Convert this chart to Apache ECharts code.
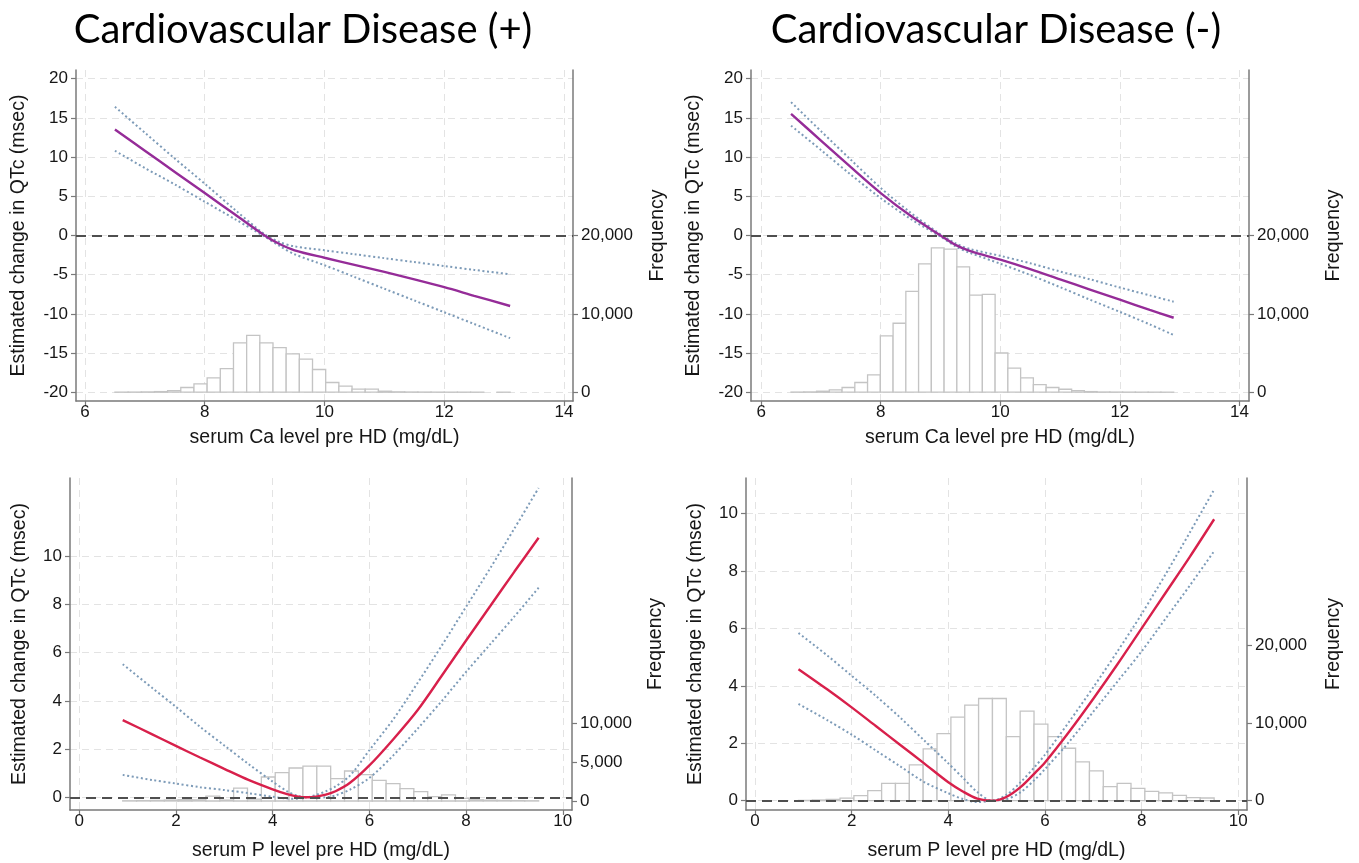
<!DOCTYPE html>
<html>
<head>
<meta charset="utf-8">
<script src="https://cdn.jsdelivr.net/npm/echarts@6/dist/echarts.min.js"></script>
<style>
html, body { margin: 0; padding: 0; background: #fff; }
#chart { width: 1359px; height: 863px; }
</style>
</head>
<body>
<div id="chart"></div>
<script>
// ---- data ----

// serum Ca, cardiovascular disease (+)
const caPosX = [6.5, 7, 7.5, 8, 8.5, 9, 9.25, 9.5, 10, 10.5, 11, 11.5, 12, 12.5, 13.1];
const caPosFit = [13.5, 10.8, 8.1, 5.4, 2.7, 0, -1.1, -1.9, -2.85, -3.75, -4.65, -5.6, -6.6, -7.7, -9.0];
const caPosUpper = [16.4, 13.1, 9.8, 6.6, 3.3, 0.15, -0.85, -1.4, -1.9, -2.4, -2.9, -3.4, -3.9, -4.4, -4.95];
const caPosLower = [10.8, 8.6, 6.5, 4.3, 2.1, -0.15, -1.35, -2.4, -3.8, -5.3, -6.8, -8.3, -9.8, -11.3, -13.1];
const caPosHistRange = [6.5, 13.1];
const caPosFreq = [15, 20, 40, 80, 200, 600, 1070, 1840, 3000, 6300, 7260, 6300, 5700, 4900, 4230,
                   2900, 1240, 770, 385, 385, 130, 50, 30, 20, 15, 10, 10, 8, 0, 5];

// serum Ca, cardiovascular disease (-)
const caNegX = [6.5, 7, 7.5, 8, 8.5, 9, 9.25, 9.5, 10, 10.5, 11, 11.5, 12, 12.5, 12.9];
const caNegFit = [15.5, 12.1, 8.7, 5.4, 2.5, 0, -1.2, -2.0, -3.1, -4.3, -5.6, -6.9, -8.2, -9.5, -10.5];
const caNegUpper = [17.0, 13.3, 9.65, 6.05, 2.9, 0.15, -1.0, -1.75, -2.6, -3.55, -4.6, -5.6, -6.65, -7.65, -8.45];
const caNegLower = [14.0, 10.9, 7.75, 4.75, 2.1, -0.15, -1.4, -2.25, -3.6, -5.05, -6.6, -8.2, -9.75, -11.35, -12.7];
const caNegHistRange = [6.5, 12.9];
const caNegFreq = [20, 40, 130, 300, 600, 1240, 2220, 7180, 8800, 12860, 16370, 18420, 18250, 15980, 12390,
                   12480, 5000, 3080, 1840, 980, 600, 380, 210, 80, 30, 20, 15, 10, 10, 5];

// serum P, cardiovascular disease (+)
const pPosX = [0.9, 1.5, 2, 2.5, 3, 3.5, 4, 4.3, 4.5, 4.7, 4.9, 5.1, 5.3, 5.6, 6, 6.5, 7, 7.5, 8, 8.5, 9, 9.5];
const pPosFit = [3.2, 2.62, 2.13, 1.65, 1.18, 0.72, 0.33, 0.13, 0.04, 0, 0.03, 0.11, 0.25, 0.6, 1.32, 2.42, 3.62, 5.05, 6.5, 7.93, 9.36, 10.76];
const pPosUpper = [5.52, 4.55, 3.75, 2.92, 2.15, 1.38, 0.65, 0.25, 0.07, 0, 0.1, 0.25, 0.45, 0.9, 1.95, 3.25, 4.75, 6.3, 7.9, 9.5, 11.15, 12.83];
const pPosLower = [0.93, 0.72, 0.57, 0.42, 0.3, 0.17, 0.02, -0.05, -0.06, 0, -0.02, 0.0, 0.08, 0.32, 0.8, 1.75, 2.85, 4.0, 5.2, 6.35, 7.5, 8.69];
const pPosHistRange = [0.9, 9.5];
const pPosFreq = [30, 50, 80, 120, 180, 150, 640, 120, 1670, 250, 3090, 3650, 4250, 4500, 4500,
                  2870, 3860, 3390, 2660, 2230, 1600, 1210, 560, 780, 350, 150, 100, 80, 50, 30];

// serum P, cardiovascular disease (-)
const pNegX = [0.9, 1.5, 2, 2.5, 3, 3.5, 4, 4.3, 4.6, 4.9, 5.2, 5.5, 5.8, 6, 6.5, 7, 7.5, 8, 8.5, 9, 9.5];
const pNegFit = [4.58, 3.87, 3.25, 2.6, 1.95, 1.3, 0.64, 0.32, 0.07, 0, 0.13, 0.48, 0.98, 1.33, 2.4, 3.55, 4.75, 6.0, 7.25, 8.5, 9.8];
const pNegUpper = [5.84, 5.05, 4.35, 3.65, 2.9, 2.1, 1.3, 0.8, 0.3, 0, 0.2, 0.65, 1.2, 1.6, 2.75, 3.95, 5.2, 6.5, 7.9, 9.35, 10.83];
const pNegLower = [3.37, 2.8, 2.3, 1.75, 1.2, 0.65, 0.26, 0.06, -0.05, 0, 0.05, 0.3, 0.75, 1.1, 2.05, 3.1, 4.15, 5.2, 6.35, 7.5, 8.69];
const pNegHistRange = [0.9, 9.5];
const pNegFreq = [40, 90, 170, 345, 650, 1290, 2240, 2240, 4610, 6680, 8660, 10780, 12330, 13190, 13190,
                  8280, 11550, 9870, 8280, 6770, 5000, 3840, 1810, 2240, 1600, 1210, 1000, 690, 390, 350];

// tick labels
const caTicks = [6, 8, 10, 12, 14];
const pTicks = [0, 2, 4, 6, 8, 10];
const qtcTicksCa = [-20, -15, -10, -5, 0, 5, 10, 15, 20];
const qtcTicksP = [0, 2, 4, 6, 8, 10];
const freqTicksA = [0, 10000, 20000];
const freqTicksB = [0, 5000, 10000];

const panelTitles = ['Cardiovascular Disease (+)', 'Cardiovascular Disease (-)'];
const caAxisName = 'serum Ca level pre HD (mg/dL)';
const pAxisName = 'serum P level pre HD (mg/dL)';
const qtcName = 'Estimated change in QTc (msec)';
const freqName = 'Frequency';

// ---- styling ----
const FONT = '"Liberation Sans", Arial, Helvetica, sans-serif';
const TITLE_FONT = '40px Lato, "Open Sans", sans-serif';
const AXIS_COLOR = '#7a7a7a';
const TEXT_COLOR = '#161616';
const PURPLE = '#952c98';
const CRIMSON = '#d8204b';
const CI_COLOR = '#7d9bb8';

function zip(xs, ys) {
    return xs.map((x, i) => [x, ys[i]]);
}

// histogram bins: the range split evenly into freq.length bins
function histBins(range, freq) {
    const w = (range[1] - range[0]) / freq.length;
    return freq.map((f, i) => [range[0] + i * w, range[0] + (i + 1) * w, f]);
}

function renderBin(params, api) {
    const h = api.value(2);
    if (!h) return null;
    const p0 = api.coord([api.value(0), h]);
    const p1 = api.coord([api.value(1), 0]);
    return {
        type: 'rect',
        shape: { x: p0[0], y: p0[1], width: p1[0] - p0[0], height: p1[1] - p0[1] },
        style: { fill: '#ffffff', stroke: '#c4c4c4', lineWidth: 1.3 }
    };
}

function xAxisFor(gridIndex, min, max, ticks, name, nameGap) {
    return {
        type: 'value', gridIndex, min, max, position: 'bottom',
        name, nameLocation: 'middle', nameGap,
        nameTextStyle: { fontFamily: FONT, fontSize: 19.5, color: TEXT_COLOR },
        axisLine: { show: true, onZero: false, lineStyle: { color: AXIS_COLOR, width: 1.5 } },
        axisTick: { show: true, length: 5, customValues: ticks, lineStyle: { color: AXIS_COLOR, width: 1.2 } },
        axisLabel: { customValues: ticks, margin: 3, fontFamily: FONT, fontSize: 17, color: TEXT_COLOR },
        splitLine: { show: true, lineStyle: { color: '#e3e3e3', type: [7, 5], width: 1 } }
    };
}

function leftAxisFor(gridIndex, min, max, ticks, nameGap) {
    return {
        type: 'value', gridIndex, min, max, position: 'left',
        name: qtcName, nameLocation: 'middle', nameGap, nameRotate: 90,
        nameTextStyle: { fontFamily: FONT, fontSize: 19.5, color: TEXT_COLOR },
        axisLine: { show: true, onZero: false, lineStyle: { color: AXIS_COLOR, width: 1.5 } },
        axisTick: { show: true, length: 5, customValues: ticks, lineStyle: { color: AXIS_COLOR, width: 1.2 } },
        axisLabel: { customValues: ticks, margin: 8, fontFamily: FONT, fontSize: 17, color: TEXT_COLOR },
        splitLine: { show: true, lineStyle: { color: '#e3e3e3', type: [7, 5], width: 1 } }
    };
}

function rightAxisFor(gridIndex, min, max, ticks, nameGap) {
    return {
        type: 'value', gridIndex, min, max, position: 'right',
        name: freqName, nameLocation: 'middle', nameGap, nameRotate: 90,
        nameTextStyle: { fontFamily: FONT, fontSize: 19.5, color: TEXT_COLOR },
        axisLine: { show: true, onZero: false, lineStyle: { color: AXIS_COLOR, width: 1.5 } },
        axisTick: { show: true, length: 5, customValues: ticks, lineStyle: { color: AXIS_COLOR, width: 1.2 } },
        axisLabel: {
            customValues: ticks, margin: 8, fontFamily: FONT, fontSize: 17, color: TEXT_COLOR,
            formatter: v => v.toLocaleString('en-US')
        },
        splitLine: { show: false }
    };
}

const panels = [
    { x: caPosX, fit: caPosFit, upper: caPosUpper, lower: caPosLower, range: caPosHistRange, freq: caPosFreq, color: PURPLE },
    { x: caNegX, fit: caNegFit, upper: caNegUpper, lower: caNegLower, range: caNegHistRange, freq: caNegFreq, color: PURPLE },
    { x: pPosX, fit: pPosFit, upper: pPosUpper, lower: pPosLower, range: pPosHistRange, freq: pPosFreq, color: CRIMSON },
    { x: pNegX, fit: pNegFit, upper: pNegUpper, lower: pNegLower, range: pNegHistRange, freq: pNegFreq, color: CRIMSON }
];

const series = [];
panels.forEach((p, i) => {
    const ciLine = { color: CI_COLOR, width: 2, type: [2, 2.6] };
    // histogram on the frequency axis
    series.push({
        type: 'custom', xAxisIndex: i, yAxisIndex: 2 * i + 1,
        renderItem: renderBin, encode: { x: [0, 1], y: 2 },
        data: histBins(p.range, p.freq), silent: true, z: 1
    });
    // upper CI, carries the dashed reference line at 0
    series.push({
        type: 'line', xAxisIndex: i, yAxisIndex: 2 * i,
        data: zip(p.x, p.upper), symbol: 'none', smooth: 0.3,
        lineStyle: ciLine, z: 3, silent: true,
        markLine: {
            silent: true, symbol: ['none', 'none'], label: { show: false },
            lineStyle: { color: '#4f4f4f', type: [10, 6], width: 1.8 },
            data: [{ yAxis: 0 }]
        }
    });
    series.push({
        type: 'line', xAxisIndex: i, yAxisIndex: 2 * i,
        data: zip(p.x, p.lower), symbol: 'none', smooth: 0.3,
        lineStyle: ciLine, z: 3, silent: true
    });
    series.push({
        type: 'line', xAxisIndex: i, yAxisIndex: 2 * i,
        data: zip(p.x, p.fit), symbol: 'none', smooth: 0.3,
        lineStyle: { color: p.color, width: 2.4 }, z: 4, silent: true
    });
});

const chart = echarts.init(document.getElementById('chart'));
chart.setOption({
    animation: false,
    backgroundColor: '#ffffff',
    graphic: [
        { type: 'text', x: 303, y: 30, style: { text: panelTitles[0], font: TITLE_FONT, fill: '#000', align: 'center', verticalAlign: 'middle', textAlign: 'center', textVerticalAlign: 'middle' } },
        { type: 'text', x: 996, y: 30, style: { text: panelTitles[1], font: TITLE_FONT, fill: '#000', align: 'center', verticalAlign: 'middle', textAlign: 'center', textVerticalAlign: 'middle' } }
    ],
    grid: [
        { left: 76, top: 70, width: 497, height: 331, outerBoundsMode: 'none' },
        { left: 751, top: 70, width: 498, height: 331, outerBoundsMode: 'none' },
        { left: 70, top: 478, width: 502, height: 332, outerBoundsMode: 'none' },
        { left: 746, top: 478, width: 501, height: 332, outerBoundsMode: 'none' }
    ],
    xAxis: [
        xAxisFor(0, 5.85, 14.15, caTicks, caAxisName, 27),
        xAxisFor(1, 5.83, 14.16, caTicks, caAxisName, 27),
        xAxisFor(2, -0.19, 10.19, pTicks, pAxisName, 31),
        xAxisFor(3, -0.186, 10.18, pTicks, pAxisName, 31)
    ],
    yAxis: [
        leftAxisFor(0, -21.12, 21.1, qtcTicksCa, 47),
        rightAxisFor(0, -1120, 41100, freqTicksA, 75),
        leftAxisFor(1, -21.12, 21.1, qtcTicksCa, 47),
        rightAxisFor(1, -1120, 41100, freqTicksA, 75),
        leftAxisFor(2, -0.527, 13.24, qtcTicksP, 40),
        rightAxisFor(2, -1158, 41570, freqTicksB, 74),
        leftAxisFor(3, -0.324, 11.236, qtcTicksP, 40),
        rightAxisFor(3, -1200, 41640, freqTicksA, 77)
    ],
    series
});
</script>
</body>
</html>
